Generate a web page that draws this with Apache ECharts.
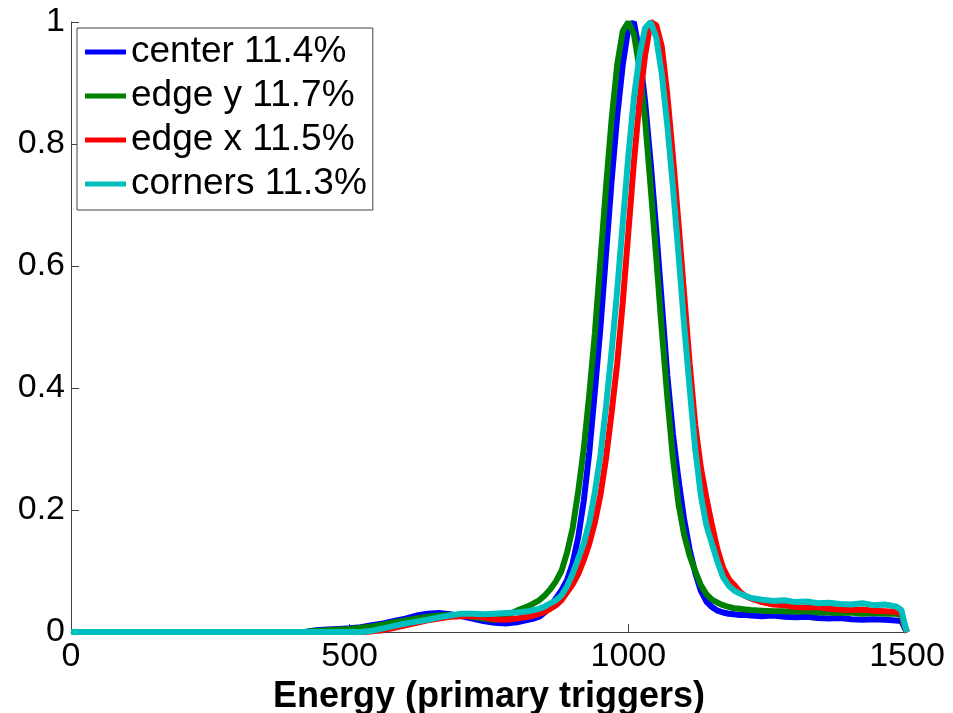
<!DOCTYPE html>
<html>
<head>
<meta charset="utf-8">
<script src="https://cdn.jsdelivr.net/npm/echarts@6/dist/echarts.min.js"></script>
<style>html,body{margin:0;padding:0;background:#fff;overflow:hidden;}#c{width:953px;height:713px;}</style>
</head>
<body>
<div id="c"></div>
<script>
var energy = [0, 400, 420, 440, 460, 480, 500, 520, 540, 560, 580, 600, 620, 640, 660, 680, 700, 720, 740, 760, 780, 800, 820,
  830, 840, 850, 860, 870, 880, 890, 900, 910, 920, 930, 940, 950, 960, 970, 980, 990, 1000, 1010, 1020, 1030, 1040, 1050, 1060,
  1070, 1080, 1090, 1100, 1110, 1120, 1130, 1140, 1150, 1160, 1170, 1180, 1190, 1200, 1210, 1220,
  1240, 1260, 1280, 1300, 1320, 1340, 1360, 1380, 1400, 1420, 1440, 1460, 1480, 1490, 1496, 1500];

var center = [0,
  0, 0, 0.003, 0.004, 0.005, 0.006, 0.008, 0.011, 0.014, 0.018, 0.022, 0.027, 0.030, 0.031, 0.029, 0.026, 0.022, 0.018, 0.015, 0.014, 0.016, 0.020,
  0.022, 0.025, 0.032, 0.042, 0.055, 0.068, 0.085, 0.112, 0.155, 0.215, 0.295, 0.395, 0.500, 0.620, 0.740, 0.845, 0.930, 0.990, 1.000, 0.950,
  0.870, 0.770, 0.660, 0.540, 0.420, 0.325, 0.250, 0.185, 0.135, 0.097, 0.068, 0.050, 0.041, 0.035, 0.032, 0.030, 0.029, 0.028, 0.028, 0.027,
  0.026, 0.027, 0.025, 0.024, 0.025, 0.023, 0.022, 0.023, 0.021, 0.020, 0.021, 0.020, 0.019, 0.018, 0.006, 0];

var edgeY = [0,
  0, 0, 0.002, 0.003, 0.004, 0.005, 0.007, 0.009, 0.012, 0.016, 0.019, 0.022, 0.025, 0.027, 0.028, 0.028, 0.025, 0.022, 0.020, 0.026, 0.035, 0.042,
  0.047, 0.052, 0.060, 0.070, 0.083, 0.100, 0.130, 0.170, 0.230, 0.300, 0.390, 0.490, 0.610, 0.730, 0.840, 0.930, 0.985, 1.000, 0.980, 0.925,
  0.840, 0.730, 0.615, 0.495, 0.385, 0.285, 0.210, 0.160, 0.125, 0.100, 0.077, 0.062, 0.053, 0.048, 0.044, 0.041, 0.039, 0.038, 0.037, 0.036,
  0.035, 0.034, 0.034, 0.033, 0.034, 0.032, 0.032, 0.031, 0.032, 0.030, 0.031, 0.030, 0.030, 0.028, 0.008, 0];

var edgeX = [0,
  0, 0, 0, 0, 0, 0, 0, 0.001, 0.003, 0.007, 0.011, 0.015, 0.019, 0.022, 0.025, 0.026, 0.026, 0.024, 0.021, 0.020, 0.022, 0.025,
  0.027, 0.030, 0.033, 0.038, 0.044, 0.052, 0.065, 0.078, 0.095, 0.118, 0.145, 0.180, 0.225, 0.285, 0.360, 0.440, 0.540, 0.655, 0.770, 0.870,
  0.945, 1.000, 0.995, 0.960, 0.880, 0.780, 0.670, 0.555, 0.440, 0.340, 0.270, 0.220, 0.175, 0.135, 0.105, 0.087, 0.077, 0.066, 0.059, 0.055,
  0.049, 0.045, 0.044, 0.041, 0.040, 0.041, 0.038, 0.037, 0.036, 0.037, 0.035, 0.034, 0.033, 0.031, 0.010, 0];

var corners = [0,
  0, 0, 0, 0, 0, 0, 0, 0.002, 0.006, 0.010, 0.014, 0.017, 0.020, 0.024, 0.027, 0.030, 0.030, 0.029, 0.030, 0.031, 0.032, 0.034,
  0.036, 0.038, 0.042, 0.047, 0.052, 0.060, 0.075, 0.095, 0.120, 0.145, 0.180, 0.230, 0.290, 0.370, 0.460, 0.560, 0.670, 0.780, 0.875, 0.945,
  0.990, 1.000, 0.975, 0.915, 0.830, 0.730, 0.620, 0.505, 0.400, 0.300, 0.225, 0.175, 0.145, 0.115, 0.090, 0.076, 0.068, 0.063, 0.059, 0.056,
  0.053, 0.051, 0.052, 0.049, 0.050, 0.047, 0.048, 0.046, 0.045, 0.047, 0.044, 0.045, 0.042, 0.036, 0.012, 0];

var seriesNames = ['center 11.4%', 'edge y 11.7%', 'edge x 11.5%', 'corners 11.3%'];
var seriesColors = ['#0000ff', '#008000', '#ff0000', '#00bfbf'];
var seriesValues = [center, edgeY, edgeX, corners];

function pairs(vals) {
  return energy.map(function (e, i) { return [e, vals[i]]; });
}

var chart = echarts.init(document.getElementById('c'), null, {renderer: 'canvas'});
var axisColor = '#404040';
var option = {
  backgroundColor: '#ffffff',
  animation: false,
  grid: {left: 71, right: 46, top: 22, bottom: 81, containLabel: false, outerBoundsMode: 'none'},
  legend: {
    left: 77, top: 28, orient: 'vertical',
    icon: 'rect', itemWidth: 41, itemHeight: 5, itemGap: 4,
    padding: [4, 6, 6, 8],
    borderColor: '#404040', borderWidth: 1, backgroundColor: '#ffffff',
    textStyle: {fontFamily: 'Liberation Sans', fontSize: 37, color: '#000', lineHeight: 40},
    data: seriesNames.map(function (n, i) { return {name: n, itemStyle: {color: seriesColors[i]}}; })
  },
  xAxis: {
    type: 'value', min: 0, max: 1500, interval: 500,
    name: 'Energy (primary triggers)', nameLocation: 'middle', nameGap: 33,
    nameTextStyle: {fontFamily: 'Liberation Sans', fontWeight: 'bold', fontSize: 36, color: '#000'},
    axisLine: {show: true, lineStyle: {color: axisColor, width: 1}},
    axisTick: {show: true, inside: true, length: 8, lineStyle: {color: axisColor}},
    axisLabel: {fontFamily: 'Liberation Sans', fontSize: 34, color: '#000', margin: 8,
      formatter: function (v) { return String(v); }},
    splitLine: {show: false}
  },
  yAxis: {
    type: 'value', min: 0, max: 1, interval: 0.2,
    axisLine: {show: true, lineStyle: {color: axisColor, width: 1}},
    axisTick: {show: true, inside: true, length: 8, lineStyle: {color: axisColor}},
    axisLabel: {fontFamily: 'Liberation Sans', fontSize: 34, color: '#000', margin: 6},
    splitLine: {show: false}
  },
  series: seriesNames.map(function (n, i) {
    return {
      name: n, type: 'line', showSymbol: false, symbol: 'none', smooth: false,
      data: pairs(seriesValues[i]),
      lineStyle: {color: seriesColors[i], width: 6},
      itemStyle: {color: seriesColors[i]},
      z: 2 + i
    };
  })
};
chart.setOption(option);
</script>
</body>
</html>
